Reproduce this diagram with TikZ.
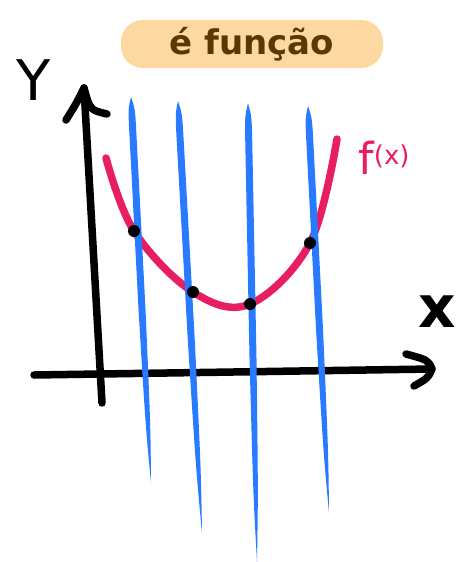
\documentclass[tikz,border=0pt]{standalone}
\usepackage{fontspec}
\usetikzlibrary{calc}
\setsansfont{DejaVu Sans}
\definecolor{curvepink}{RGB}{232,30,100}
\definecolor{lineblue}{RGB}{40,122,255}
\definecolor{titlefill}{RGB}{253,216,160}
\definecolor{titleink}{RGB}{90,56,0}
\begin{document}
\begin{tikzpicture}[
    x=1pt,y=-1pt,
    axis/.style={
        line width=7.5pt,
        line cap=round,
        line join=round,
        draw=black
    },
    curve/.style={
        line width=7.5pt,
        line cap=round,
        draw=curvepink
    },
    vline/.style={
        fill=lineblue
    },
    dot/.style={
        circle,
        fill=black,
        minimum size=12pt,
        inner sep=0pt
    },
    titlebox/.style={
        rounded corners=22pt,
        fill=titlefill,
        minimum width=262pt,
        minimum height=48pt,
        text=titleink,
        font=\sffamily\bfseries\fontsize{34}{34}\selectfont
    },
    label/.style={
        font=\sffamily\fontsize{56}{56}\selectfont,
        inner sep=0pt
    }
]
    \useasboundingbox (0,0) rectangle (458,562);

    % title
    \node[titlebox] (title) at (252,44) {é função};

    % axes
    \coordinate (ytop) at (84,88);
    \coordinate (ybot) at (102,403);
    \coordinate (xleft) at (34,375);
    \coordinate (xright) at (432,369);
    \draw[axis] (ybot) -- (ytop);
    \draw[axis] (66,120) .. controls (76,104) .. (ytop) .. controls (90,110) .. (107,114);
    \draw[axis] (xleft) -- (xright);
    \draw[axis] (406,354) .. controls (428,360) .. (xright) .. controls (428,378) .. (414,386);

    % labels
    \node[label] (ylab) at (34,80) {Y};
    \node[label, font=\sffamily\bfseries\fontsize{58}{58}\selectfont] (xlab) at (437,312) {x};
    \node[text=curvepink, inner sep=0pt] (flab) at (384,158)
        {\sffamily\fontsize{44}{44}\selectfont f\raisebox{10pt}{\fontsize{26}{26}\selectfont(x)}};

    % function
    \draw[curve] plot[smooth, tension=0.6] coordinates
        {(106,158) (134,231) (193,292) (250,304) (310,243) (337,139)};

    % vertical lines
    \foreach \tx/\ty/\bx/\by in {131/97/151/483, 178/101/202/533, 248/103/257/562, 308/106/329/513} {
        \coordinate (T) at (\tx,\ty);
        \coordinate (B) at (\bx,\by);
        \fill[vline] (T) .. controls ($(T)!0.03!(B)+(-3.5,0)$) .. ($(T)!0.1!(B)+(-3.5,0)$)
            -- ($(T)!0.55!(B)+(-3.5,0)$) .. controls ($(T)!0.85!(B)+(-2.5,0)$) .. (B)
            .. controls ($(T)!0.85!(B)+(2.5,0)$) .. ($(T)!0.55!(B)+(3.5,0)$)
            -- ($(T)!0.1!(B)+(3.5,0)$) .. controls ($(T)!0.03!(B)+(3.5,0)$) .. cycle;
    }

    % intersections
    \node[dot] (p1) at (134,231) {};
    \node[dot] (p2) at (193,292) {};
    \node[dot] (p3) at (250,304) {};
    \node[dot] (p4) at (310,243) {};
\end{tikzpicture}
\end{document}
